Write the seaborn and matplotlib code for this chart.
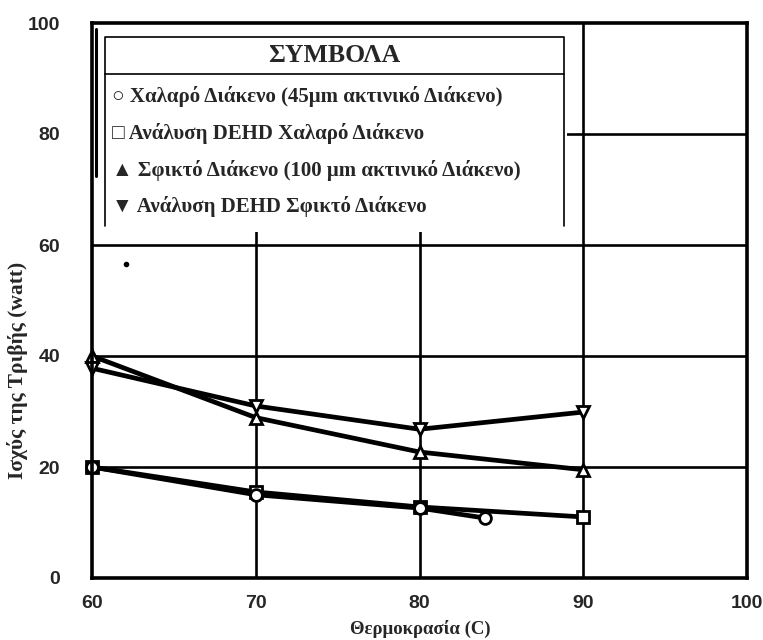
import matplotlib
matplotlib.use("Agg")
import matplotlib.pyplot as plt
from matplotlib.patches import Rectangle
import seaborn as sns
import pandas as pd

# Friction power (watt) against temperature (C)
temp_loose = [60, 70, 80, 84]
power_loose = [20, 15.0, 12.6, 10.8]

temp_dehd_loose = [60, 70, 80, 90]
power_dehd_loose = [20, 15.5, 12.8, 11.0]

temp_tight = [60, 70, 80, 90]
power_tight = [40, 28.9, 22.7, 19.5]

temp_dehd_tight = [60, 70, 80, 90]
power_dehd_tight = [37.8, 31.0, 26.8, 29.9]

x_ticks = [60, 70, 80, 90, 100]
y_ticks = [0, 20, 40, 60, 80, 100]

legend_title = "ΣΥΜΒΟΛΑ"
legend_rows = [
    "○ Χαλαρό Διάκενο (45μm ακτινικό Διάκενο)",
    "□ Ανάλυση DEHD Χαλαρό Διάκενο",
    "▲ Σφικτό Διάκενο (100 μm ακτινικό Διάκενο)",
    "▼ Ανάλυση DEHD Σφικτό Διάκενο",
]

sns.set_style("white")
plt.rcParams["font.family"] = ["Liberation Serif", "DejaVu Serif"]

fig = plt.figure(figsize=(7.63, 6.40), dpi=100)
ax = fig.add_axes([92 / 763, 62 / 640, 655 / 763, 555 / 640])

series = [
    (temp_dehd_loose, power_dehd_loose, "s"),
    (temp_loose, power_loose, "o"),
    (temp_tight, power_tight, "^"),
    (temp_dehd_tight, power_dehd_tight, "v"),
]
for xs, ys, mk in series:
    df = pd.DataFrame({"T": xs, "P": ys})
    sns.lineplot(data=df, x="T", y="P", ax=ax, color="black", linewidth=3.4,
                 marker=mk, markersize=8.5, markerfacecolor="white",
                 markeredgecolor="black", markeredgewidth=2.0, zorder=5,
                 clip_on=False)

ax.set_xlim(60, 100)
ax.set_ylim(0, 100)
ax.set_xticks(x_ticks)
ax.set_yticks(y_ticks)
tick_font = dict(family=["Liberation Sans Narrow", "Liberation Sans", "DejaVu Sans"],
                 weight="bold", size=14)
ax.set_xticklabels([str(v) for v in x_ticks], **tick_font)
ax.set_yticklabels([str(v) for v in y_ticks], **tick_font)
ax.tick_params(axis="both", length=0)
ax.tick_params(axis="x", pad=12)
ax.tick_params(axis="y", pad=23)

for v in [70, 80, 90]:
    ax.axvline(v, color="black", linewidth=1.9, zorder=1)
for v in [20, 40, 60, 80]:
    ax.axhline(v, color="black", linewidth=1.9, zorder=1)

for s in ax.spines.values():
    s.set_linewidth(2.6)
    s.set_color("black")
    s.set_zorder(6)

ax.set_xlabel("")
ax.set_ylabel("")

# Symbols box in the upper left of the plot area
ax.add_patch(Rectangle((60, 62.3), 29.0, 37.7, facecolor="white",
                       edgecolor="none", zorder=3))
box_l, box_r, box_t, box_sep, box_b = 60.8, 88.8, 97.5, 90.9, 63.5
ax.plot([box_l, box_l, box_r, box_r], [box_b, box_t, box_t, box_b],
        color="black", linewidth=1.2, zorder=4)
ax.plot([box_l, box_r], [box_sep, box_sep], color="black", linewidth=1.2, zorder=4)
ax.text((box_l + box_r) / 2, 94.2, legend_title, ha="center", va="center",
        fontsize=18.5, fontweight="bold", zorder=4)
for i, row in enumerate(legend_rows):
    ax.text(61.2, 86.8 - i * 6.65, row, ha="left", va="center", fontsize=15,
            fontweight="bold", family=["Liberation Serif", "DejaVu Serif"], zorder=4)

# stray pen stroke near the left border
ax.plot([60.27, 60.27], [72.4, 99.0], color="black", linewidth=2.2, zorder=4,
        clip_on=False)
ax.plot([62.1], [56.5], marker="o", markersize=3, color="black", zorder=4)

fig.text(18 / 763, 1 - 370 / 640, "Ισχύς της Τριβής (watt)", rotation=90,
         ha="center", va="center", fontsize=15.5, fontweight="bold")
fig.text(420 / 763, 1 - 629 / 640, "Θερμοκρασία (C)", ha="center", va="center",
         fontsize=13.5, fontweight="bold")

fig.savefig("out.png", dpi=100)
